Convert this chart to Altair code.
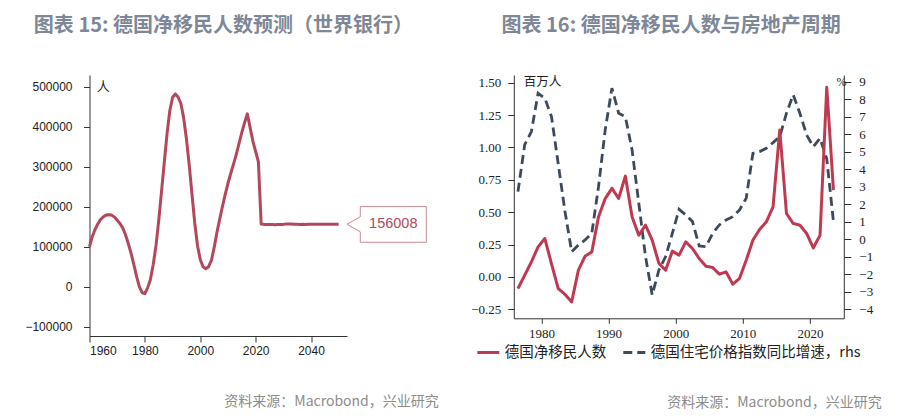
import altair as alt
import pandas as pd

# ---------------- Left chart: World Bank net migration projection ----------------
wb_years = list(range(1960, 2051))
wb_values = [
    100000, 125000, 143000, 157000, 168000, 175000, 179000, 180000, 179000, 174000,
    166000, 158000, 147000, 130000, 108000, 84000, 56000, 26000, 0, -15000,
    -17000, -3000, 18000, 55000, 102000, 165000, 237000, 310000, 382000, 440000,
    473000, 482000, 474000, 458000, 422000, 370000, 305000, 232000, 160000, 103000,
    68000, 50000, 45000, 50000, 65000, 97000, 135000, 168000, 200000, 230000,
    258000, 283000, 306000, 331000, 358000, 385000, 410000, 432000, 398000, 364000,
    338000, 312000, 156500, 155800, 155500, 155200, 155500, 155000, 155600, 155300,
    155800, 156500, 157000, 156800, 156200, 155900, 155700, 156000, 155800, 156100,
    156300, 156100, 155900, 156000, 156200, 156000, 155900, 156000, 156100, 156000,
    156008,
]
left_x_ticks = [1960, 1980, 2000, 2020, 2040]
left_y_ticks = [-100000, 0, 100000, 200000, 300000, 400000, 500000]

# ---------------- Right chart: net migration vs house prices ----------------
rc_years = list(range(1976, 2024))
net_migration_mn = [
    -0.09, 0.013, 0.116, 0.232, 0.297, 0.10, -0.09, -0.134, -0.193, 0.052,
    0.16, 0.193, 0.464, 0.606, 0.684, 0.606, 0.779, 0.464, 0.322, 0.40,
    0.284, 0.104, 0.052, 0.199, 0.168, 0.271, 0.219, 0.142, 0.083, 0.073,
    0.021, 0.039, -0.056, -0.012, 0.129, 0.284, 0.367, 0.425, 0.541, 1.135,
    0.49, 0.413, 0.40, 0.336, 0.224, 0.322, 1.465, 0.67,
]
house_price_yoy = [
    2.72, 5.4, 6.15, 8.34, 8.06, 7.0, 4.3, 1.6, -0.71, -0.33,
    -0.04, 0.34, 3.0, 6.25, 8.63, 7.2, 7.0, 5.1, 2.06, -0.99,
    -3.18, -1.75, -0.99, 0.34, 1.71, 1.39, 1.01, -0.38, -0.42, 0.34,
    0.82, 1.1, 1.29, 1.67, 2.34, 4.91, 5.01, 5.2, 5.52, 5.86,
    7.2, 8.25, 7.2, 5.96, 5.29, 5.77, 4.6, 1.01,
]
series_names = ["德国净移民人数", "德国住宅价格指数同比增速，rhs"]
right_x_ticks = [1980, 1990, 2000, 2010, 2020]
right_yl_ticks = [-0.25, 0.0, 0.25, 0.5, 0.75, 1.0, 1.25, 1.5]
right_yr_ticks = list(range(-4, 10))

title_left = "图表 15: 德国净移民人数预测（世界银行）"
title_right = "图表 16: 德国净移民人数与房地产周期"
source_text = "资料来源：Macrobond，兴业研究"

# ---------------- styles ----------------
CJK = "Noto Sans CJK SC"
TITLE_COLOR = "#7d8797"
SRC_COLOR = "#8c8c8c"
AX = "#333333"
LEFT_RED = "#b4475c"
RIGHT_RED = "#bf3a50"
DASH_COL = "#3e4a5b"

LW, LH = 257.5, 261
RW, RH = 330, 243.3

df_wb = pd.DataFrame({"year": wb_years, "value": wb_values})
df_last = pd.DataFrame({"year": [wb_years[-1]], "value": [wb_values[-1]],
                        "label": [str(wb_values[-1])]})

lx = alt.X("year:Q",
           scale=alt.Scale(domain=[1960, 2053], nice=False, zero=False),
           axis=alt.Axis(values=left_x_ticks, format="d", grid=False,
                         tickSize=6, labelPadding=3, labelFont="Liberation Sans",
                         labelFontSize=12, labelColor="#222",
                         domainColor=AX, tickColor=AX,
                         title=source_text, titleX=348.8, titleY=65,
                         titleAlign="right", titleBaseline="middle",
                         titleFont=CJK, titleFontSize=14, titleFontWeight="normal",
                         titleColor=SRC_COLOR))
ly = alt.Y("value:Q",
           scale=alt.Scale(domain=[-123250, 529250], nice=False, zero=False),
           axis=alt.Axis(values=left_y_ticks, format="d", grid=False,
                         tickSize=6, labelPadding=11.5, labelFont="Liberation Sans",
                         labelFontSize=12, labelColor="#222",
                         domainColor=AX, tickColor=AX,
                         title="人", titleAngle=0, titleX=13.2, titleY=11,
                         titleAlign="center", titleBaseline="middle",
                         titleFont=CJK, titleFontSize=13, titleFontWeight="normal",
                         titleColor="#222"))

wb_line = alt.Chart(df_wb).mark_line(color=LEFT_RED, strokeWidth=3, strokeJoin="round").encode(x=lx, y=ly)

callout_path = "M 0.83 0 L 2.16 -0.75 L 2.16 -1.77 L 8.76 -1.77 L 8.76 1.8 L 2.16 1.8 L 2.16 0.75 Z"
callout = alt.Chart(df_last).mark_point(
    shape=callout_path, size=400, filled=True, fill="white",
    stroke="#c98a93", strokeWidth=1, opacity=1
).encode(x="year:Q", y="value:Q")
callout_text = alt.Chart(df_last).mark_text(
    dx=54.6, align="center", baseline="middle", font="Liberation Sans",
    fontSize=14.5, color=LEFT_RED
).encode(x="year:Q", y="value:Q", text="label:N")

left = alt.layer(wb_line, callout, callout_text).properties(
    width=LW, height=LH,
    title=alt.Title(title_left, font=CJK, fontSize=20, fontWeight="bold",
                    color=TITLE_COLOR, anchor="middle", frame="group",
                    offset=39, dx=5.2),
)

# right chart
df_mig = pd.DataFrame({"t": [y + 0.5 for y in rc_years], "v": net_migration_mn,
                       "series": series_names[0]})
df_house = pd.DataFrame({"t": [y + 0.5 for y in rc_years], "v": house_price_yoy,
                         "series": series_names[1]})

leg = alt.Legend(orient="none", legendX=-38, legendY=265, direction="horizontal",
                 title=None, symbolType="stroke", symbolSize=484,
                 symbolStrokeWidth=3, labelFont=CJK, labelFontSize=14.5,
                 labelColor="#222", labelOffset=4, columnPadding=10, padding=0,
                 labelLimit=400)
col = alt.Color("series:N", scale=alt.Scale(domain=series_names,
                                             range=[RIGHT_RED, DASH_COL]), legend=leg)
dash = alt.StrokeDash("series:N", scale=alt.Scale(domain=series_names,
                                                  range=[[1, 0], [9, 5]]), legend=leg)

rx = alt.X("t:Q", scale=alt.Scale(domain=[1975.88, 2025.04], nice=False, zero=False),
           axis=alt.Axis(values=right_x_ticks, format="d", grid=False,
                         tickSize=5, labelPadding=4, labelFont="Liberation Serif",
                         labelFontSize=13, labelColor="#222",
                         domainColor=AX, tickColor=AX,
                         title=source_text, titleX=367.4, titleY=83.7,
                         titleAlign="right", titleBaseline="middle",
                         titleFont=CJK, titleFontSize=14, titleFontWeight="normal",
                         titleColor=SRC_COLOR))

mig_line = alt.Chart(df_mig).mark_line(strokeWidth=3, strokeJoin="round").encode(
    x=rx,
    y=alt.Y("v:Q", scale=alt.Scale(domain=[-0.3196, 1.5596], nice=False, zero=False),
            axis=alt.Axis(orient="left", values=right_yl_ticks, format=".2f", grid=False,
                          tickSize=6, labelPadding=7, labelFont="Liberation Serif",
                          labelFontSize=13, labelColor="#222",
                          domainColor=AX, tickColor=AX,
                          title="百万人", titleAngle=0, titleX=9.4, titleY=6,
                          titleAlign="left", titleBaseline="middle",
                          titleFont=CJK, titleFontSize=12.5, titleFontWeight="normal",
                          titleColor="#222")),
    color=col, strokeDash=dash,
)
house_line = alt.Chart(df_house).mark_line(strokeWidth=2.8).encode(
    x=rx,
    y=alt.Y("v:Q", scale=alt.Scale(domain=[-4.514, 9.383], nice=False, zero=False),
            axis=alt.Axis(orient="right", values=right_yr_ticks, format="d", grid=False,
                          tickSize=7, labelPadding=8,
                          labelFont="Liberation Serif",
                          labelFontSize=13, labelColor="#222",
                          domainColor=AX, tickColor=AX,
                          title="%", titleAngle=0, titleX=-2.8, titleY=6.7,
                          titleAlign="center", titleBaseline="middle",
                          titleFont="Liberation Serif", titleFontSize=12,
                          titleFontWeight="normal", titleColor="#222")),
    color=col, strokeDash=dash,
)

right = alt.layer(house_line, mig_line).resolve_scale(y="independent").properties(
    width=RW, height=RH,
    title=alt.Title(title_right, font=CJK, fontSize=20, fontWeight="bold",
                    color=TITLE_COLOR, anchor="middle", frame="group",
                    offset=39, dx=-7.7),
)

chart = alt.hconcat(left, right, spacing=166.3, bounds="flush").resolve_scale(
    color="independent", strokeDash="independent"
).resolve_legend(
    color="independent", strokeDash="independent"
).properties(
    padding={"left": 16.5, "top": 8, "right": 5, "bottom": 5},
    background="white",
).configure_view(stroke=None)

chart.save("out.html", embed_options={"renderer": "svg", "actions": False})
